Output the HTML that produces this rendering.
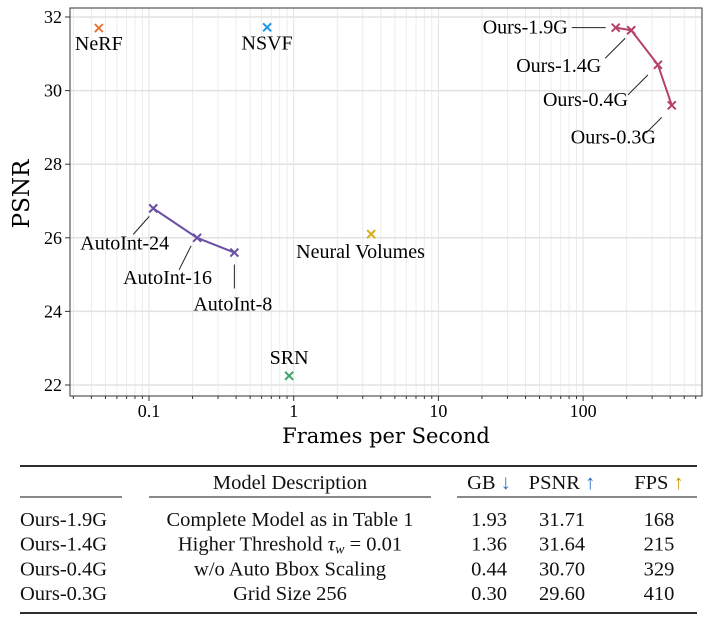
<!DOCTYPE html>
<html><head><meta charset="utf-8">
<style>
body{margin:0;background:#fff;width:706px;height:623px;overflow:hidden;font-family:"Liberation Serif",serif;}
svg{position:absolute;left:0;top:0}
</style></head>
<body>
<svg id="chart" width="706" height="623"></svg>
<script>
const yTicks=[22,24,26,28,30,32];
const xTicks=[0.1,1,10,100];
const xTickLabels=["0.1","1","10","100"];
const singleNames=["NeRF","NSVF","Neural Volumes","SRN"];
const singleFps=[0.045,0.655,3.43,0.93];
const singlePsnr=[31.7,31.72,26.1,22.25];
const singleColors=["#e8743b","#1f96e6","#d8ad1c","#3aa66a"];
const autoNames=["AutoInt-24","AutoInt-16","AutoInt-8"];
const autoFps=[0.107,0.215,0.389];
const autoPsnr=[26.8,26.0,25.6];
const oursNames=["Ours-1.9G","Ours-1.4G","Ours-0.4G","Ours-0.3G"];
const oursFps=[168,215,329,410];
const oursPsnr=[31.71,31.64,30.70,29.60];

const NS="http://www.w3.org/2000/svg";
const svg=document.getElementById('chart');
const L=70,R=702,T=8,B=396;
function X(v){return 293.7+144.7*Math.log10(v);}
function Y(v){return 17+(32-v)*36.8;}
function mk(tag,attrs,parent){const e=document.createElementNS(NS,tag);for(const k in attrs)e.setAttribute(k,attrs[k]);(parent||svg).appendChild(e);return e;}

for(let d=-2;d<=2;d++){for(let m=1;m<10;m++){const v=m*Math.pow(10,d);const x=X(v);if(x<L||x>R)continue;
 const g=mk('line',{x1:x,x2:x,y1:T,y2:B,stroke:m==1?'#e2e2e2':'#ececec','stroke-width':1});
 
 
 const t=mk('line',{x1:x,x2:x,y1:B,y2:B+(m==1?5:3),stroke:'#333','stroke-width':1});
 
 
}}
yTicks.forEach(v=>{const y=Y(v);
 const g=mk('line',{x1:L,x2:R,y1:y,y2:y,stroke:'#e2e2e2','stroke-width':1.5});
 
 
 const t=mk('line',{x1:L-5,x2:L,y1:y,y2:y,stroke:'#333'});
 
 
 const tx=mk('text',{x:L-8,y:y+6,'text-anchor':'end','font-size':18,'font-family':'Liberation Serif'});tx.textContent=v;
 
 
});
xTicks.forEach((v,i)=>{const tx=mk('text',{x:X(v),y:B+21,'text-anchor':'middle','font-size':18,'font-family':'Liberation Serif'});tx.textContent=xTickLabels[i];
 
 });
const frame=mk('rect',{x:L,y:T,width:R-L,height:B-T,fill:'none',stroke:'#333','stroke-width':1});


const xt=mk('text',{x:386,y:443,'text-anchor':'middle','font-size':21,'font-family':'DejaVu Serif'});xt.textContent='Frames per Second';


const yt=mk('text',{x:0,y:0,'text-anchor':'middle','font-size':23,'font-family':'DejaVu Serif',transform:'translate(29,194) rotate(-90)'});yt.textContent='PSNR';



function cross(x,y,c,name){const g=mk('path',{d:`M${x-4} ${y-4}L${x+4} ${y+4}M${x-4} ${y+4}L${x+4} ${y-4}`,stroke:c,'stroke-width':2});
 
 }
function label(x,y,txt,anchor,name){const t=mk('text',{x:x,y:y,'text-anchor':anchor,'font-size':20,'font-family':'Liberation Serif'});t.textContent=txt;
 
 }
function leader(x1,y1,x2,y2){const l=mk('line',{x1,y1,x2,y2,stroke:'#222','stroke-width':1});
 
 }

const sOff=[[0,22,'middle'],[0,22,'middle'],[-75,24,'start'],[0,-12,'middle']];
singleNames.forEach((n,i)=>{const x=X(singleFps[i]),y=Y(singlePsnr[i]);cross(x,y,singleColors[i],'point-'+n.toLowerCase().replace(/ /g,'-'));
 label(x+sOff[i][0],y+sOff[i][1],n,sOff[i][2],'label-'+n.toLowerCase().replace(/ /g,'-'));});

const ap=mk('polyline',{points:autoFps.map((v,i)=>X(v)+','+Y(autoPsnr[i])).join(' '),fill:'none',stroke:'#6a4fa3','stroke-width':2});


autoFps.forEach((v,i)=>cross(X(v),Y(autoPsnr[i]),'#6a4fa3','point-'+autoNames[i].toLowerCase()));
{let x=X(autoFps[0]),y=Y(autoPsnr[0]);leader(x-4,y+8,x-20,y+26);label(x-73,y+41,autoNames[0],'start','label-autoint-24');}
{let x=X(autoFps[1]),y=Y(autoPsnr[1]);leader(x-6,y+8,x-18,y+32);label(x-74,y+46,autoNames[1],'start','label-autoint-16');}
{let x=X(autoFps[2]),y=Y(autoPsnr[2]);leader(x,y+12,x,y+36);label(x-41,y+58,autoNames[2],'start','label-autoint-8');}

const op=mk('polyline',{points:oursFps.map((v,i)=>X(v)+','+Y(oursPsnr[i])).join(' '),fill:'none',stroke:'#b5416b','stroke-width':2});


oursFps.forEach((v,i)=>cross(X(v),Y(oursPsnr[i]),'#b5416b','point-'+oursNames[i].toLowerCase()));
{let x=X(oursFps[0]),y=Y(oursPsnr[0]);leader(x-44,y,x-10,y);label(x-48,y+6,oursNames[0],'end','label-ours-1.9g');}
{let x=X(oursFps[1]),y=Y(oursPsnr[1]);leader(x-6,y+8,x-26,y+28);label(x-30,y+42,oursNames[1],'end','label-ours-1.4g');}
{let x=X(oursFps[2]),y=Y(oursPsnr[2]);leader(x-10,y+10,x-30,y+30);label(x-30,y+41,oursNames[2],'end','label-ours-0.4g');}
{let x=X(oursFps[3]),y=Y(oursPsnr[3]);leader(x-10,y+12,x-26,y+28);label(x-16,y+38,oursNames[3],'end','label-ours-0.3g');}

function hl(x1,x2,y,w,name){const l=mk('line',{x1,x2,y1:y,y2:y,stroke:'#111','stroke-width':w});
 
 }
hl(20,697,466,1.8,'table-top-rule');
hl(20,122,497,1,'table-mid-rule');hl(149,431,497,1,'table-mid-rule');hl(457,697,497,1,'table-mid-rule');
hl(20,697,613,1.8,'table-bottom-rule');
function cell(x,y,txt,anchor,name){const t=mk('text',{x,y,'text-anchor':anchor,'font-size':20.5,'font-family':'Liberation Serif',fill:'#111'});t.innerHTML=txt;
 
 }
cell(290,489,'Model Description','middle','header-model-description');
cell(489,489,'GB <tspan fill="#2a6fc9">↓</tspan>','middle','header-gb');
cell(562,489,'PSNR <tspan fill="#2a6fc9">↑</tspan>','middle','header-psnr');
cell(659,489,'FPS <tspan fill="#c89a10">↑</tspan>','middle','header-fps');
const descs=['Complete Model as in Table 1','Higher Threshold <tspan font-style="italic">τ</tspan><tspan font-style="italic" font-size="14" dy="3">w</tspan><tspan dy="-3"> = 0.01</tspan>','w/o Auto Bbox Scaling','Grid Size 256'];
const gbs=['1.93','1.36','0.44','0.30'];
const ps=['31.71','31.64','30.70','29.60'];
const fs=['168','215','329','410'];
[0,1,2,3].forEach(i=>{const y=526+i*24.7;
 cell(20,y,oursNames[i],'start','row-name');
 cell(290,y,descs[i],'middle','row-description');
 cell(489,y,gbs[i],'middle','row-gb');
 cell(562,y,ps[i],'middle','row-psnr');
 cell(659,y,fs[i],'middle','row-fps');});
</script>
</body></html>
